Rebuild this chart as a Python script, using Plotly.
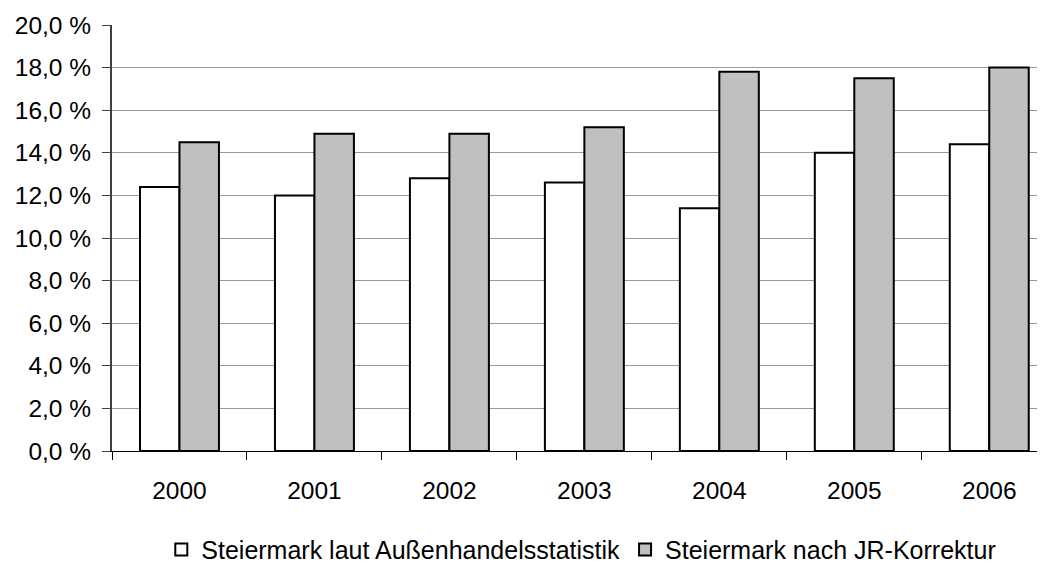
import plotly.graph_objects as go

years = ["2000", "2001", "2002", "2003", "2004", "2005", "2006"]
laut_aussenhandel = [12.4, 12.0, 12.8, 12.6, 11.4, 14.0, 14.4]
nach_jr_korrektur = [14.5, 14.9, 14.9, 15.2, 17.8, 17.5, 18.0]
series_names = ["Steiermark laut Außenhandelsstatistik", "Steiermark nach JR-Korrektur"]
y_tick_values = [0, 2, 4, 6, 8, 10, 12, 14, 16, 18, 20]
y_tick_labels = ["0,0 %", "2,0 %", "4,0 %", "6,0 %", "8,0 %", "10,0 %",
                 "12,0 %", "14,0 %", "16,0 %", "18,0 %", "20,0 %"]

FONT = "Liberation Sans, Arial, sans-serif"

fig = go.Figure()
fig.add_trace(go.Bar(
    x=years, y=laut_aussenhandel, name=series_names[0],
    marker=dict(color="#FFFFFF", line=dict(color="#000000", width=2)),
))
fig.add_trace(go.Bar(
    x=years, y=nach_jr_korrektur, name=series_names[1],
    marker=dict(color="#C0C0C0", line=dict(color="#000000", width=2)),
))

fig.update_layout(
    width=1045, height=567,
    margin=dict(l=104, r=8, t=17, b=124, pad=0, autoexpand=False),
    paper_bgcolor="#FFFFFF", plot_bgcolor="#FFFFFF",
    font=dict(family=FONT, size=24.5, color="#000000"),
    barmode="group", bargap=0.415, bargroupgap=0,
    showlegend=True,
    legend=dict(
        orientation="h", x=0.503, xanchor="center", y=-0.232, yanchor="middle",
        font=dict(family=FONT, size=25, color="#000000"),
        itemwidth=30, tracegroupgap=0, bgcolor="rgba(0,0,0,0)",
    ),
)
fig.update_xaxes(
    type="category", range=[-0.5, 6.413],
    showline=True, linecolor="#000000", linewidth=1,
    ticks="outside", tickson="boundaries", ticklen=8, tickcolor="#000000", tickwidth=1,
    ticklabelstandoff=18, showgrid=False, zeroline=False, automargin=False,
    tickfont=dict(family=FONT, size=24.5, color="#000000"),
)
fig.update_yaxes(
    range=[0, 20], tickvals=y_tick_values, ticktext=y_tick_labels,
    showline=True, linecolor="#404040", linewidth=2,
    ticks="outside", ticklen=8, tickcolor="#404040", tickwidth=1,
    ticklabelstandoff=6, automargin=False,
    showgrid=True, gridcolor="#999999", gridwidth=1, zeroline=False,
    tickfont=dict(family=FONT, size=24.5, color="#000000"),
)

fig.write_html("out.html")
